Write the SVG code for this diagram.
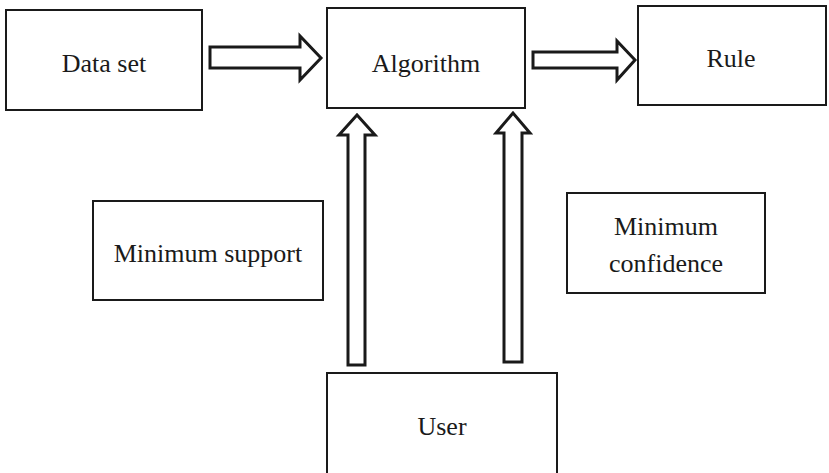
<svg xmlns="http://www.w3.org/2000/svg" width="829" height="473" viewBox="0 0 829 473">
<style>
.box{fill:#fff;stroke:#1a1a1a;stroke-width:2}
.arr{fill:#fff;stroke:#1a1a1a;stroke-width:3;stroke-linejoin:miter}
text{font-family:"Liberation Serif","Times New Roman",serif;font-size:26px;fill:#1a1a1a;text-anchor:middle}
</style>
<rect width="829" height="473" fill="#fff"/>
<g id="connectors">
<polygon class="arr" points="210,47 300,47 300,36 321,58 300,80 300,68 210,68"/>
<polygon class="arr" points="533,52 617,52 617,41 635,60 617,80 617,68 533,68"/>
<polygon class="arr" points="348,365 348,135 339,135 357,115 375,135 365,135 365,365"/>
<polygon class="arr" points="504,362 504,133 496,133 513,113 530,133 522,133 522,362"/>
</g>
<g id="dataset"><rect class="box" x="6" y="10" width="196" height="100"/><text x="104" y="72">Data set</text></g>
<g id="algorithm"><rect class="box" x="327" y="8" width="198" height="100"/><text x="426" y="72">Algorithm</text></g>
<g id="rule"><rect class="box" x="638" y="6" width="188" height="99"/><text x="731" y="67">Rule</text></g>
<g id="minsupport"><rect class="box" x="93" y="201" width="230" height="99"/><text x="208" y="262">Minimum support</text></g>
<g id="minconfidence"><rect class="box" x="567" y="193" width="198" height="100"/><text x="666" y="235">Minimum</text><text x="666" y="272">confidence</text></g>
<g id="user"><rect class="box" x="327" y="373" width="230" height="105"/><text x="442" y="435">User</text></g>
</svg>
